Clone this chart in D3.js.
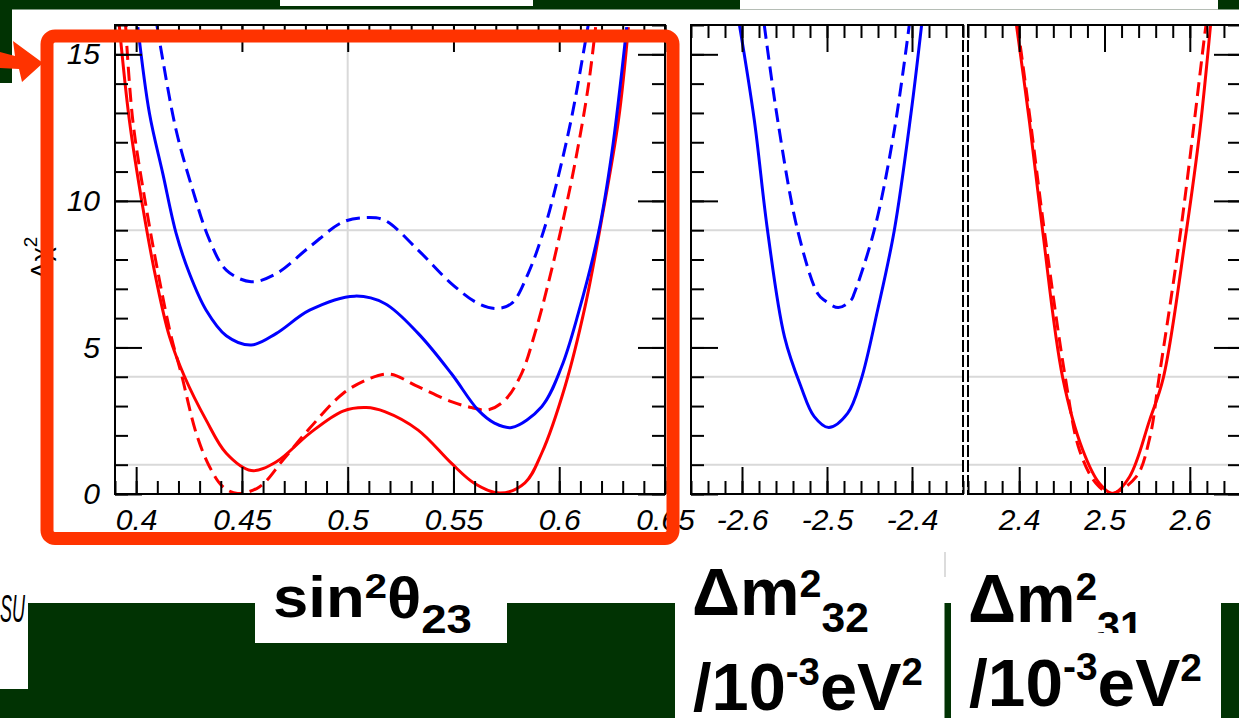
<!DOCTYPE html>
<html><head><meta charset="utf-8">
<script src="https://cdn.jsdelivr.net/npm/d3@7"></script>
<style>html,body{margin:0;padding:0;background:#fff;overflow:hidden}</style>
</head><body><svg id="c" width="1239" height="718"></svg>
<script>
// ---------- data ----------
const yTickValues = [0, 5, 10, 15];
const chiGridValues = [1, 4, 9];
const sinTickValues = [0.4, 0.45, 0.5, 0.55, 0.6, 0.65];
const dm32TickValues = [-2.6, -2.5, -2.4];
const dm31TickValues = [2.4, 2.5, 2.6];

// sin^2 theta23 panel
const sinRedSolid = [[0.392,16],[0.3968,12.75],[0.4031,9.8],[0.4095,7.3],[0.4158,5.36],[0.4229,4.0],[0.4331,2.52],[0.4426,1.39],[0.4544,0.80],[0.4663,1.10],[0.482,2.07],[0.4978,2.83],[0.5088,2.95],[0.5175,2.81],[0.5333,2.18],[0.549,1.05],[0.560,0.36],[0.572,0.03],[0.5838,0.38],[0.5917,1.39],[0.6027,3.66],[0.6122,6.39],[0.620,9.34],[0.628,12.75],[0.6327,15.93]];
const sinRedDashed = [[0.395,16],[0.3984,12.75],[0.4047,9.8],[0.411,7.3],[0.4166,5.36],[0.4213,4.11],[0.4284,2.07],[0.4347,0.93],[0.441,0.25],[0.448,0.02],[0.4584,0.25],[0.4694,1.16],[0.482,2.24],[0.4978,3.43],[0.5104,3.94],[0.52,4.09],[0.5333,3.66],[0.549,3.15],[0.5585,2.95],[0.5664,2.87],[0.5743,3.2],[0.5822,4.11],[0.5885,5.48],[0.5948,7.18],[0.6011,9.11],[0.6074,11.27],[0.6137,13.89],[0.6172,15.93]];
const sinBlueSolid = [[0.4008,15.93],[0.4063,12.98],[0.4126,10.93],[0.4189,8.89],[0.4252,7.52],[0.4331,6.27],[0.4426,5.40],[0.4544,5.08],[0.4663,5.48],[0.482,6.27],[0.5033,6.75],[0.5175,6.50],[0.5333,5.48],[0.549,4.11],[0.5617,2.86],[0.5696,2.41],[0.5775,2.27],[0.5917,2.98],[0.6011,4.34],[0.609,6.16],[0.6185,8.89],[0.6248,11.6],[0.6319,15.93]];
const sinBlueDashed = [[0.4098,16],[0.4118,15.14],[0.4189,12.41],[0.4268,10.36],[0.4347,8.66],[0.4426,7.64],[0.4544,7.24],[0.4663,7.52],[0.482,8.43],[0.4978,9.28],[0.5088,9.43],[0.5175,9.34],[0.5333,8.32],[0.549,7.18],[0.5617,6.50],[0.5704,6.33],[0.5775,6.50],[0.5853,7.52],[0.5932,9.11],[0.5995,10.82],[0.6059,12.86],[0.6122,15.37],[0.6137,16]];

// Delta m^2_32 panel
const dm32BlueSolid = [[-2.603,16],[-2.5855,12.75],[-2.570,9.0],[-2.550,5.36],[-2.5306,3.66],[-2.515,2.64],[-2.498,2.27],[-2.4758,2.75],[-2.46,3.89],[-2.4405,6.27],[-2.4208,9.0],[-2.4012,12.98],[-2.3887,16]];
const dm32BlueDashed = [[-2.5738,16],[-2.558,12.75],[-2.5346,9.0],[-2.511,6.84],[-2.503,6.61],[-2.4867,6.36],[-2.4718,6.61],[-2.468,6.84],[-2.4444,9.0],[-2.4208,12.41],[-2.4032,16]];

// Delta m^2_31 panel
const dm31RedSolid = [[2.3968,16],[2.4118,12.75],[2.4274,9.0],[2.451,3.97],[2.4745,1.5],[2.4941,0.36],[2.5098,0.02],[2.5294,0.59],[2.5529,2.52],[2.569,3.97],[2.5961,9.0],[2.6118,12.41],[2.6243,16]];
const dm31RedDashed = [[2.398,16],[2.413,12.75],[2.4294,9.0],[2.4541,3.97],[2.4706,1.5],[2.4902,0.36],[2.5078,0.02],[2.5373,0.59],[2.5529,1.9],[2.5639,3.97],[2.5894,9.0],[2.6176,15.7],[2.619,16]];

// ---------- setup ----------
const svg = d3.select('#c');
const GREEN = '#013303', ORANGE = '#ff3300', RED = '#ff0000', BLUE = '#0000ff', GRID = '#d9d9d9';
const FONT = 'Liberation Sans, Arial, Helvetica, sans-serif';

const y = d3.scaleLinear().domain([0, 16]).range([494, 25]);
const xS = d3.scaleLinear().domain([0.39, 0.65]).range([115, 665]);
const x32 = d3.scaleLinear().domain([-2.66, -2.34]).range([691, 963]);
const x31 = d3.scaleLinear().domain([2.34, 2.66]).range([968, 1241]);

// ---------- slide decorations (background) ----------
svg.append('rect').attr('x', 0).attr('y', 0).attr('width', 1239).attr('height', 9.5).attr('fill', GREEN);
svg.append('rect').attr('x', 280).attr('y', 0).attr('width', 253).attr('height', 6).attr('fill', '#fff');
svg.append('rect').attr('x', 740).attr('y', 0).attr('width', 478).attr('height', 9.5).attr('fill', '#fff');
svg.append('line').attr('x1', 740).attr('x2', 1218).attr('y1', 9.5).attr('y2', 9.5).attr('stroke', '#b5bdb5').attr('stroke-width', 1);
svg.append('rect').attr('x', 0).attr('y', 0).attr('width', 12).attr('height', 83).attr('fill', GREEN);
svg.append('path').attr('fill', GREEN)
  .attr('d', 'M28,603 H255 V643 H507 V603 H675 V718 H0 V689 H28 Z');
svg.append('rect').attr('x', 944.5).attr('y', 603).attr('width', 6.5).attr('height', 115).attr('fill', GREEN);
svg.append('rect').attr('x', 1221).attr('y', 603).attr('width', 18).attr('height', 115).attr('fill', GREEN);
svg.append('line').attr('x1', 945).attr('x2', 945).attr('y1', 552).attr('y2', 577).attr('stroke', '#d0d0d0').attr('stroke-width', 1.5);

// ---------- panels ----------
function addAxis(gen, tx, ty, size, values, labels) {
  const g = svg.append('g').attr('transform', `translate(${tx},${ty})`)
    .call(gen.tickValues(values).tickSize(size).tickPadding(15)
      .tickFormat(labels ? (d => String(d)) : (() => '')));
  g.select('.domain').remove();
  g.selectAll('line').attr('stroke', '#000').attr('stroke-width', 2);
  g.attr('font-family', FONT).attr('font-size', 30).attr('font-style', 'italic');
  g.selectAll('text').attr('fill', '#000');
  return g;
}

const panels = [
  { x: xS, curves: [[sinRedSolid, RED, false], [sinRedDashed, RED, true], [sinBlueSolid, BLUE, false], [sinBlueDashed, BLUE, true]],
    major: sinTickValues, minor: d3.range(39, 66).map(d => d / 100), vgrid: [0.5], left: 'solid', right: 'solid', yLabels: true, id: 'p1' },
  { x: x32, curves: [[dm32BlueSolid, BLUE, false], [dm32BlueDashed, BLUE, true]],
    major: dm32TickValues, minor: d3.range(-266, -233, 2).map(d => d / 100), vgrid: [], left: 'solid', right: 'dashed', yLabels: false, id: 'p2' },
  { x: x31, curves: [[dm31RedSolid, RED, false], [dm31RedDashed, RED, true]],
    major: dm31TickValues, minor: d3.range(234, 267, 2).map(d => d / 100), vgrid: [], left: 'dashed', right: 'solid', yLabels: false, id: 'p3' }
];

const defs = svg.append('defs');
panels.forEach(p => {
  const [x0, x1] = p.x.range();
  const [y0, y1] = [y(16), y(0)];
  defs.append('clipPath').attr('id', 'clip-' + p.id)
    .append('rect').attr('x', x0).attr('y', y0).attr('width', x1 - x0).attr('height', y1 - y0);

  // grid
  const grid = svg.append('g').attr('stroke', GRID).attr('stroke-width', 2);
  chiGridValues.forEach(v => grid.append('line').attr('x1', x0).attr('x2', x1).attr('y1', y(v)).attr('y2', y(v)));
  p.vgrid.forEach(v => grid.append('line').attr('x1', p.x(v)).attr('x2', p.x(v)).attr('y1', y0).attr('y2', y1));

  // curves
  const line = d3.line().x(d => p.x(d[0])).y(d => y(d[1])).curve(d3.curveCatmullRom.alpha(0.5));
  const cg = svg.append('g').attr('clip-path', `url(#clip-${p.id})`);
  p.curves.forEach(([data, color, dashed]) => {
    cg.append('path').attr('d', line(data)).attr('fill', 'none').attr('stroke', color)
      .attr('stroke-width', 3).attr('stroke-linejoin', 'round')
      .attr('stroke-dasharray', dashed ? '14,7' : null);
  });

  // x ticks
  addAxis(d3.axisBottom(p.x), 0, y1, -13, p.minor, false);
  addAxis(d3.axisBottom(p.x), 0, y1, -27, p.major, true);
  addAxis(d3.axisTop(p.x), 0, y0, -13, p.minor, false);
  addAxis(d3.axisTop(p.x), 0, y0, -27, p.major, false);
  // y ticks
  if (p.left === 'solid') {
    addAxis(d3.axisLeft(y), x0, 0, -13, d3.range(0, 17), false);
    addAxis(d3.axisLeft(y), x0, 0, -27, yTickValues, p.yLabels);
  }
  if (p.right === 'solid') {
    addAxis(d3.axisRight(y), x1, 0, -13, d3.range(0, 17), false);
    addAxis(d3.axisRight(y), x1, 0, -27, yTickValues, false);
  }

  // frame
  const fr = svg.append('g').attr('stroke', '#000').attr('stroke-width', 2).attr('fill', 'none');
  fr.append('line').attr('x1', x0 - 1).attr('x2', x1 + 1).attr('y1', y0).attr('y2', y0);
  fr.append('line').attr('x1', x0 - 1).attr('x2', x1 + 1).attr('y1', y1).attr('y2', y1);
  fr.append('line').attr('x1', x0).attr('x2', x0).attr('y1', y0).attr('y2', y1)
    .attr('stroke-dasharray', p.left === 'dashed' ? '12,3' : null);
  fr.append('line').attr('x1', x1).attr('x2', x1).attr('y1', y0).attr('y2', y1)
    .attr('stroke-dasharray', p.right === 'dashed' ? '12,3' : null);
});

// y axis title (mostly hidden behind the highlight box)
const yt = svg.append('text').attr('transform', 'translate(50,258) rotate(-90)')
  .attr('text-anchor', 'middle').attr('font-family', FONT).attr('font-size', 27).attr('fill', '#000');
yt.append('tspan').text('Δχ');
yt.append('tspan').attr('font-size', 19).attr('dy', -13).text('2');

// ---------- highlight box & arrow ----------
svg.append('rect').attr('x', 47).attr('y', 36).attr('width', 626).attr('height', 502.5).attr('rx', 8)
  .attr('fill', 'none').attr('stroke', ORANGE).attr('stroke-width', 13);
svg.append('polygon').attr('fill', ORANGE)
  .attr('points', '0,52 15,56 13,41 43,63 22,82 19,69 0,68');

// ---------- slide text ----------
function richText(parts, x0, x1) {
  const t = svg.append('text').attr('font-family', FONT).attr('font-weight', 'bold').attr('fill', '#000');
  parts.forEach(p => t.append('tspan').attr('y', p[2]).attr('font-size', p[1]).text(p[0]));
  const w = t.node().getComputedTextLength();
  t.attr('transform', `translate(${x0},0) scale(${(x1 - x0) / w},1)`);
  return t;
}
richText([['sin', 57, 617], ['2', 36, 598], ['θ', 57, 618], ['23', 41, 633]], 273, 472);
richText([['Δm', 66, 615], ['2', 39, 597], ['32', 42, 632]], 692, 869);
richText([['/10', 66, 710], ['-3', 38, 685], ['eV', 66, 710], ['2', 38, 685]], 693, 923);
richText([['Δm', 68, 622], ['2', 39, 600], ['31', 42, 641]], 968, 1143);
svg.append('rect').attr('x', 1095).attr('y', 633).attr('width', 55).attr('height', 20).attr('fill', '#fff');
richText([['/10', 66, 706], ['-3', 38, 680], ['eV', 66, 706], ['2', 38, 681]], 969, 1202);

svg.append('text').attr('x', 0).attr('y', 622).attr('font-family', FONT)
  .attr('font-style', 'italic').attr('font-size', 38).attr('fill', '#000')
  .attr('textLength', 25).attr('lengthAdjust', 'spacingAndGlyphs').text('SU');
</script>
</body></html>
